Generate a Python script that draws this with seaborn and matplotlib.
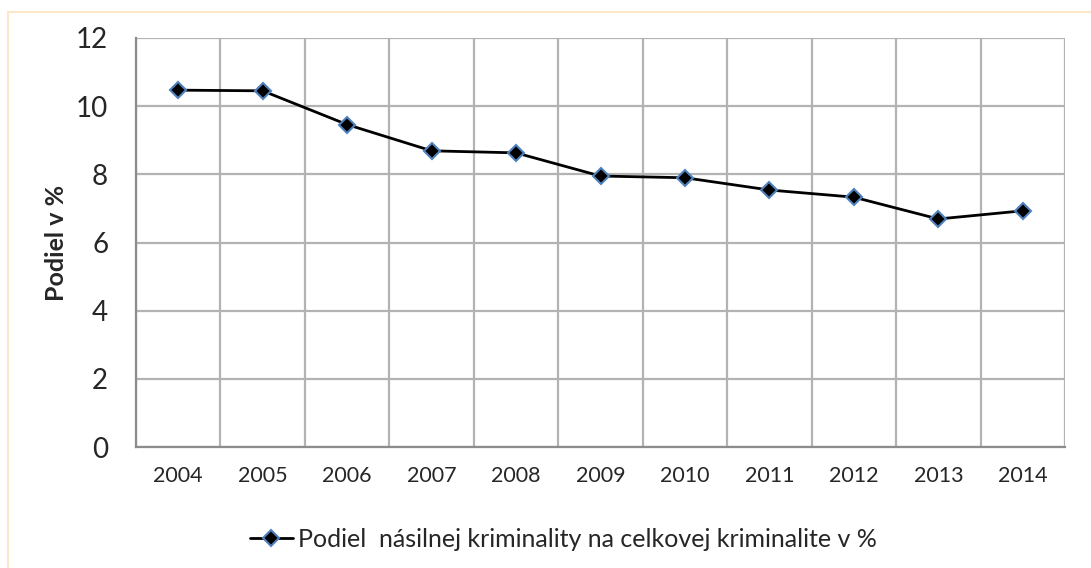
import numpy as np
import pandas as pd
import matplotlib
matplotlib.use("Agg")
import matplotlib.pyplot as plt
import seaborn as sns
from matplotlib.patches import Rectangle
from matplotlib.ticker import FixedLocator

# data
years = ["2004", "2005", "2006", "2007", "2008", "2009", "2010", "2011", "2012", "2013", "2014"]
share = [10.47, 10.45, 9.46, 8.69, 8.63, 7.95, 7.90, 7.54, 7.33, 6.69, 6.93]
series_name = "Podiel  násilnej kriminality na celkovej kriminalite v %"

df = pd.DataFrame({"rok": years, "podiel": share})

sns.set_style("white")
plt.rcParams['font.family'] = ['Lato', 'DejaVu Sans']

fig = plt.figure(figsize=(10.91, 5.68), dpi=100)
ax = fig.add_axes([136 / 1091, 1 - 447 / 568, (1065 - 136) / 1091, (447 - 38) / 568])

sns.lineplot(data=df, x="rok", y="podiel", ax=ax, color="black", linewidth=2,
             marker="D", markersize=8, markerfacecolor="black",
             markeredgecolor="#4F81BD", markeredgewidth=1.5, label=series_name,
             sort=False)

ax.set_xlim(-0.5, len(years) - 0.5)
ax.set_ylim(0, 12)
ax.set_yticks(np.arange(0, 13, 2))
ax.xaxis.set_minor_locator(FixedLocator(np.arange(-0.5, len(years), 1)))
ax.grid(True, which="major", axis="y", color="#B3B3B3", linewidth=1.6)
ax.grid(True, which="minor", axis="x", color="#B3B3B3", linewidth=1.6)
ax.grid(False, which="major", axis="x")
ax.tick_params(axis="both", which="both", length=0)
ax.tick_params(axis="y", labelsize=20, pad=20)
ax.tick_params(axis="x", labelsize=15.5, pad=14)

for side in ["top", "right"]:
    ax.spines[side].set_visible(False)
for side in ["left", "bottom"]:
    ax.spines[side].set_color("#8C8C8C")
    ax.spines[side].set_linewidth(1.6)

ax.set_xlabel("")
ax.set_ylabel("Podiel v %", fontsize=18, fontweight="bold", labelpad=6)

leg = ax.legend(loc="center", bbox_to_anchor=(0.46, -0.225), frameon=False,
                fontsize=18, handlelength=1.7, handletextpad=0.2)

# outer chart frame
fig.patches.append(Rectangle((8 / 1091, -0.05), 1.2, 1 - 12 / 568 + 0.05,
                             transform=fig.transFigure, fill=False,
                             edgecolor="#FCE8C8", linewidth=1.5))

fig.savefig("out.png", dpi=100)
